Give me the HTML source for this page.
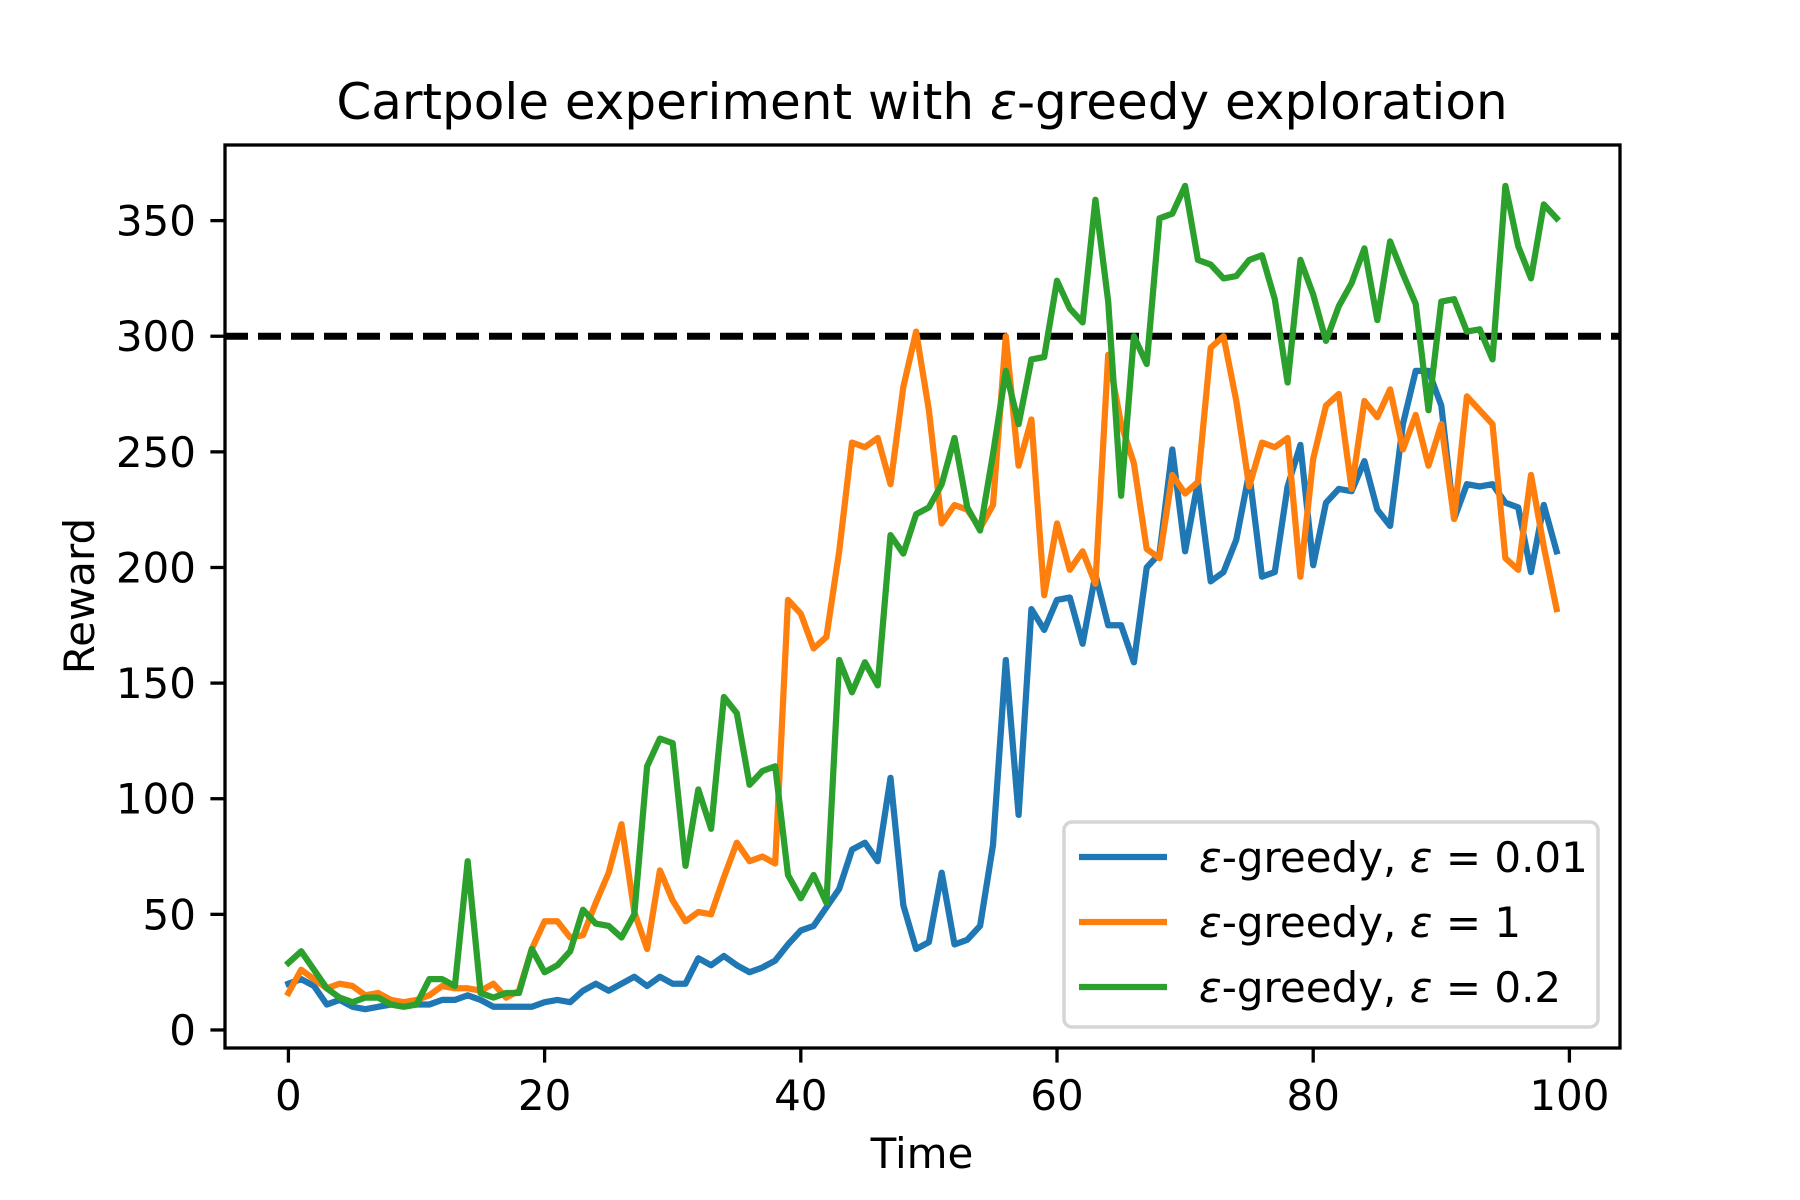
<!DOCTYPE html>
<html><head><meta charset="utf-8"><style>
html,body{margin:0;padding:0;background:#fff;}
svg{display:block;font-family:"DejaVu Sans","Liberation Sans",sans-serif;}
</style></head><body>
<svg id="chart" width="1800" height="1200" viewBox="0 0 1800 1200" xmlns="http://www.w3.org/2000/svg">
<rect width="1800" height="1200" fill="#fff"/>
<text x="922" y="119" font-size="50" text-anchor="middle">Cartpole experiment with <tspan font-style="italic">ε</tspan>-greedy exploration</text>
<g id="plot"></g>
<g id="axes"></g>
<text x="922" y="1168" font-size="42" text-anchor="middle">Time</text>
<text transform="translate(94,596) rotate(-90)" font-size="42" text-anchor="middle">Reward</text>
<g>
<rect x="1064" y="822" width="534" height="205" rx="8" fill="#fff" fill-opacity="0.8" stroke="#d5d5d5" stroke-width="3.5"/>
<line x1="1079" y1="857" x2="1167" y2="857" stroke="#1f77b4" stroke-width="6.25"/>
<text x="1199" y="872" font-size="42"><tspan font-style="italic">ε</tspan>-greedy, <tspan font-style="italic">ε</tspan> = 0.01</text>
<line x1="1079" y1="922" x2="1167" y2="922" stroke="#ff7f0e" stroke-width="6.25"/>
<text x="1199" y="937" font-size="42"><tspan font-style="italic">ε</tspan>-greedy, <tspan font-style="italic">ε</tspan> = 1</text>
<line x1="1079" y1="987" x2="1167" y2="987" stroke="#2ca02c" stroke-width="6.25"/>
<text x="1199" y="1002" font-size="42"><tspan font-style="italic">ε</tspan>-greedy, <tspan font-style="italic">ε</tspan> = 0.2</text>
</g>
</svg>
<script>
const seriesBlue = [20,22,19,11,13,10,9,10,11,11,11,11,13,13,15,13,10,10,10,10,12,13,12,17,20,17,20,23,19,23,20,20,31,28,32,28,25,27,30,37,43,45,53,61,78,81,73,109,54,35,38,68,37,39,45,80,160,93,182,173,186,187,167,197,175,175,159,200,206,251,207,237,194,198,212,241,196,198,235,253,201,228,234,233,246,225,218,262,285,285,270,221,236,235,236,228,226,198,227,207];
const seriesOrange = [16,26,22,18,20,19,15,16,13,12,13,15,19,18,18,17,20,14,17,35,47,47,40,41,55,68,89,51,35,69,56,47,51,50,66,81,73,75,72,186,180,165,170,207,254,252,256,236,278,302,268,219,227,225,217,227,300,244,264,188,219,199,207,193,292,262,245,208,204,240,232,237,295,300,272,235,254,252,256,196,247,270,275,234,272,265,277,251,266,244,262,221,274,268,262,204,199,240,209,182];
const seriesGreen = [29,34,26,18,14,12,14,14,11,10,11,22,22,19,73,16,14,16,16,35,25,28,34,52,46,45,40,50,114,126,124,71,104,87,144,137,106,112,114,67,57,67,55,160,146,159,149,214,206,223,226,236,256,226,216,249,285,262,290,291,324,312,306,359,315,231,300,288,351,353,365,333,331,325,326,333,335,316,280,333,318,298,313,323,338,307,341,327,314,268,315,316,302,303,290,365,339,325,357,351];
const thresholdValue = [300];
const xTicks = [0,20,40,60,80,100];
const yTicks = [0,50,100,150,200,250,300,350];

const L=225,R=1620,T=145,B=1048;
const XMIN=-4.95,XMAX=103.95,YMIN=-7.8,YMAX=382.7;
function sx(v){return L+(v-XMIN)/(XMAX-XMIN)*(R-L);}
function sy(v){return B-(v-YMIN)/(YMAX-YMIN)*(B-T);}
const NS="http://www.w3.org/2000/svg";
const plot=document.getElementById('plot');
const axes=document.getElementById('axes');
function mk(tag,attrs,parent){const e=document.createElementNS(NS,tag);for(const k in attrs)e.setAttribute(k,attrs[k]);parent.appendChild(e);return e;}

const th=mk('line',{x1:L,x2:R,y1:sy(thresholdValue[0]),y2:sy(thresholdValue[0]),stroke:'#000','stroke-width':7,'stroke-dasharray':'23 10'},plot);



function drawSeries(arr,color,name){
  const pts=arr.map((v,i)=>sx(i).toFixed(1)+','+sy(v).toFixed(1)).join(' ');
  const p=mk('polyline',{points:pts,fill:'none',stroke:color,'stroke-width':6.25,'stroke-linejoin':'round','stroke-linecap':'square'},plot);
  
  
}
drawSeries(seriesBlue,'#1f77b4','series-eps-0.01');
drawSeries(seriesOrange,'#ff7f0e','series-eps-1');
drawSeries(seriesGreen,'#2ca02c','series-eps-0.2');

const fr=mk('rect',{x:L,y:T,width:R-L,height:B-T,fill:'none',stroke:'#000','stroke-width':3.3},axes);



xTicks.forEach(t=>{
  const x=sx(t);
  const tk=mk('line',{x1:x,x2:x,y1:B,y2:B+14.6,stroke:'#000','stroke-width':3.3},axes);
  
  
  const tx=mk('text',{x:x,y:B+62,'font-size':42,'text-anchor':'middle'},axes);
  tx.textContent=t;
  
  
});
yTicks.forEach(t=>{
  const y=sy(t);
  const tk=mk('line',{x1:L-14.6,x2:L,y1:y,y2:y,stroke:'#000','stroke-width':3.3},axes);
  
  
  const tx=mk('text',{x:L-29,y:y+15,'font-size':42,'text-anchor':'end'},axes);
  tx.textContent=t;
  
  
});
</script>
</body></html>
